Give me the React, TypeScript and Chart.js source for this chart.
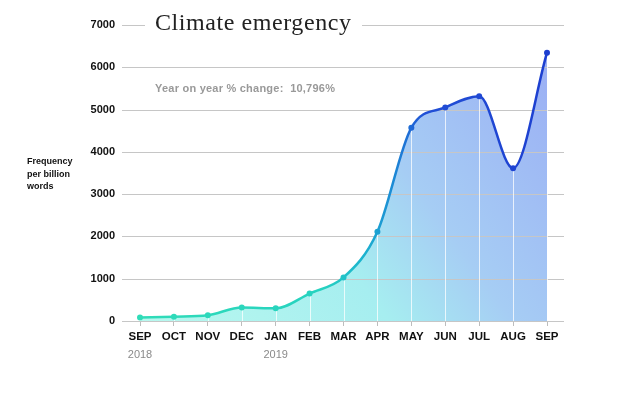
import React, { useEffect, useRef } from "react";
import { Chart, registerables } from "chart.js";

Chart.register(...registerables);

const months = ["SEP", "OCT", "NOV", "DEC", "JAN", "FEB", "MAR", "APR", "MAY", "JUN", "JUL", "AUG", "SEP"];
const years = ["2018", "", "", "", "2019", "", "", "", "", "", "", "", ""];
const frequency = [80, 100, 135, 320, 300, 650, 1030, 2110, 4570, 5050, 5315, 3615, 6345];
const yMin = 0;
const yMax = 7000;
const yStep = 1000;
const titleText = "Climate emergency";
const subtitleText = "Year on year % change:  10,796%";
const yLabelLines = ["Frequency", "per billion", "words"];

const SANS = "'Liberation Sans', Arial, Helvetica, sans-serif";
const SERIF = "'Liberation Serif', 'Times New Roman', serif";

function lineGradient(ctx: CanvasRenderingContext2D, ca: any) {
  const g = ctx.createLinearGradient(ca.left, 0, ca.right, 0);
  g.addColorStop(0, "#30dcb8");
  g.addColorStop(0.45, "#26d2c0");
  g.addColorStop(0.55, "#1db3cf");
  g.addColorStop(0.62, "#1c8cd5");
  g.addColorStop(0.7, "#214fd6");
  g.addColorStop(1, "#1d3fd0");
  return g;
}

function fillGradient(ctx: CanvasRenderingContext2D, ca: any) {
  const g = ctx.createLinearGradient(ca.left, ca.bottom, ca.right, ca.top);
  g.addColorStop(0, "#b8f8ee");
  g.addColorStop(0.4, "#a6eef0");
  g.addColorStop(0.6, "#a6cdf4");
  g.addColorStop(1, "#9aacf4");
  return g;
}

function fitText(ctx: CanvasRenderingContext2D, text: string, x: number, y: number, width: number) {
  (ctx as any).letterSpacing = "0px";
  const w = ctx.measureText(text).width;
  const sp = (width - w) / Math.max(1, text.length - 1);
  (ctx as any).letterSpacing = sp.toFixed(2) + "px";
  ctx.fillText(text, x, y);
  (ctx as any).letterSpacing = "0px";
}

const decorPlugin = {
  id: "decor",
  beforeDatasetsDraw(chart: any) {
    const { ctx, chartArea, scales } = chart;
    const y = scales.y;
    const x = scales.x;
    ctx.save();
    ctx.strokeStyle = "#c6c6c6";
    ctx.lineWidth = 1;
    for (let v = yMin; v <= yMax; v += yStep) {
      const py = Math.round(y.getPixelForValue(v)) + 0.5;
      ctx.beginPath();
      ctx.moveTo(chartArea.left - 18, py);
      ctx.lineTo(chartArea.right + 17, py);
      ctx.stroke();
    }
    ctx.strokeStyle = "rgba(255,255,255,0.75)";
    ctx.lineWidth = 1;
    frequency.forEach((val, i) => {
      const px = Math.round(x.getPixelForValue(i)) + 0.5;
      const py = y.getPixelForValue(val);
      ctx.beginPath();
      ctx.moveTo(px, py);
      ctx.lineTo(px, chartArea.bottom);
      ctx.stroke();
    });
    ctx.restore();
  },
  afterDraw(chart: any) {
    const { ctx, scales } = chart;
    const y = scales.y;
    ctx.save();
    const ty = y.getPixelForValue(yMax);
    ctx.fillStyle = "#ffffff";
    ctx.fillRect(145, ty - 14, 217, 28);
    ctx.fillStyle = "#222222";
    ctx.font = "24px " + SERIF;
    ctx.textBaseline = "alphabetic";
    ctx.textAlign = "left";
    fitText(ctx, titleText, 155, ty + 5, 196);
    ctx.fillStyle = "#999999";
    ctx.font = "bold 11px " + SANS;
    fitText(ctx, subtitleText, 155, 92, 180);
    ctx.fillStyle = "#111111";
    ctx.font = "bold 9px " + SANS;
    yLabelLines.forEach((t, i) => {
      ctx.fillText(t, 27, 164 + i * 12.5);
    });
    ctx.restore();
  },
};

export default function App() {
  const ref = useRef<HTMLCanvasElement | null>(null);
  useEffect(() => {
    document.body.style.margin = "0";
    const canvas = ref.current!;
    const chart = new Chart(canvas, {
      type: "line",
      data: {
        labels: months,
        datasets: [
          {
            data: frequency,
            borderWidth: 2.5,
            cubicInterpolationMode: "monotone",
            fill: "origin",
            borderColor: (c: any) => {
              const ca = c.chart.chartArea;
              if (!ca) return "#2ac";
              return lineGradient(c.chart.ctx, ca);
            },
            backgroundColor: (c: any) => {
              const ca = c.chart.chartArea;
              if (!ca) return "#aee";
              return fillGradient(c.chart.ctx, ca);
            },
            pointRadius: 3,
            pointBorderWidth: 0,
            pointBackgroundColor: (c: any) => {
              const ca = c.chart.chartArea;
              if (!ca) return "#2ac";
              return lineGradient(c.chart.ctx, ca);
            },
          } as any,
        ],
      },
      options: {
        animation: false,
        responsive: false,
        maintainAspectRatio: false,
        devicePixelRatio: 1,
        layout: { autoPadding: false, padding: { left: 0, right: 93, top: 25, bottom: 42 } },
        plugins: {
          legend: { display: false },
          tooltip: { enabled: false },
          title: { display: false },
          filler: { drawTime: "beforeDatasetsDraw" },
        } as any,
        scales: {
          x: {
            type: "category",
            offset: false,
            weight: 0,
            grid: {
              display: true,
              drawOnChartArea: false,
              drawTicks: true,
              tickLength: 5,
              color: "#bdbdbd",
            },
            border: { display: false },
            ticks: {
              color: "#111111",
              font: { family: SANS, size: 11.5, weight: "bold" },
              padding: 4,
              maxRotation: 0,
              autoSkip: false,
            },
            afterFit: (s: any) => {
              s.height = 24;
            },
          },
          x2: {
            type: "category",
            labels: years,
            position: "bottom",
            offset: false,
            weight: 1,
            grid: { display: false, drawTicks: false },
            border: { display: false },
            ticks: {
              color: "#8a8a8a",
              font: { family: SANS, size: 11 },
              padding: 3,
              maxRotation: 0,
              autoSkip: false,
            },
            afterFit: (s: any) => {
              s.height = 14;
            },
          },
          y: {
            min: yMin,
            max: yMax,
            grid: {
              display: true,
              drawOnChartArea: false,
              drawTicks: true,
              tickLength: 21,
              color: "rgba(0,0,0,0)",
            },
            border: { display: false },
            ticks: {
              stepSize: yStep,
              color: "#111111",
              font: { family: SANS, size: 11, weight: "bold" },
              padding: 4,
              callback: (v: any) => String(v),
            },
            afterFit: (s: any) => {
              s.width = 140;
            },
          },
        } as any,
      },
      plugins: [decorPlugin],
    });
    return () => chart.destroy();
  }, []);
  return (
    <div style={{ width: 640, height: 401, position: "relative", background: "#fff" }}>
      <canvas ref={ref} width={640} height={401} style={{ display: "block" }} />
    </div>
  );
}
